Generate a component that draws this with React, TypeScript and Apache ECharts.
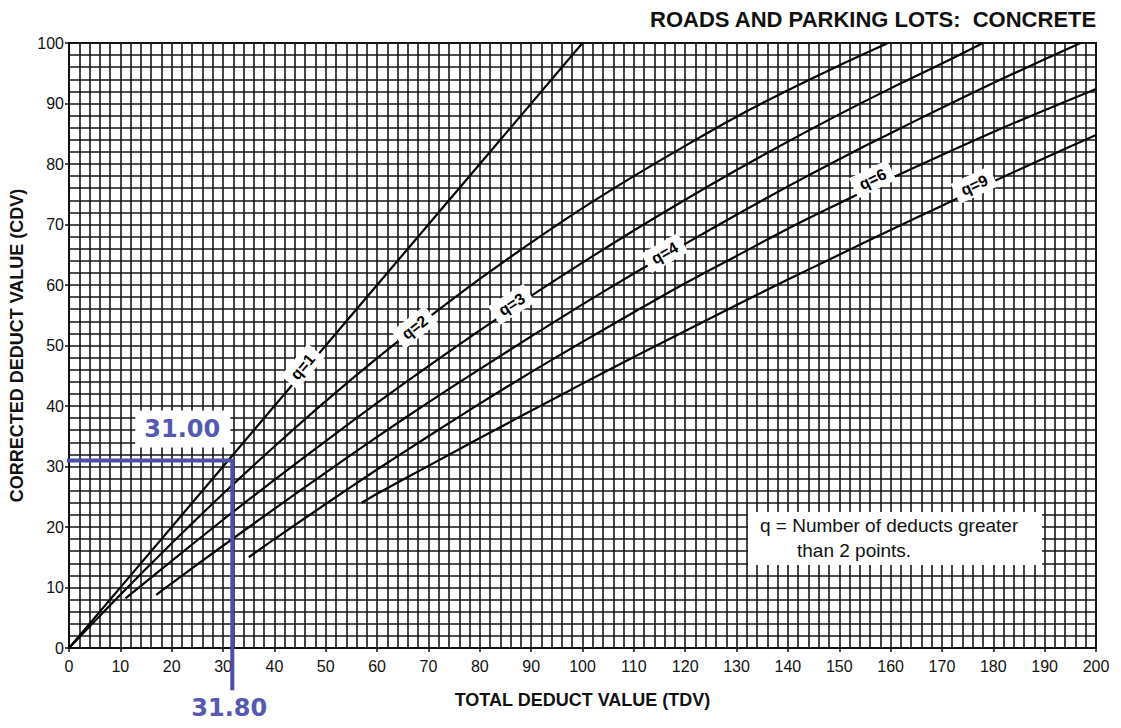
import React, { useEffect, useRef } from 'react';
import * as echarts from 'echarts';

const titleText = 'ROADS AND PARKING LOTS:  CONCRETE';
const xName = 'TOTAL DEDUCT VALUE (TDV)';
const yName = 'CORRECTED DEDUCT VALUE (CDV)';
const noteLines = ['q = Number of deducts greater', 'than 2 points.'];

// curves (TDV -> CDV)
const q1X = [0, 20, 40, 60, 80, 100];
const q1Y = [0, 20, 40, 60, 80, 100];
const q2X = [0, 10, 20, 30, 40, 50, 60, 70, 80, 90, 100, 110, 120, 130, 140, 150, 159.5];
const q2Y = [0, 8.8, 17.3, 25.5, 33.3, 40.8, 47.9, 54.6, 61, 67, 72.7, 78, 83, 87.8, 92.2, 96.3, 100];
const q3X = [11, 20, 30, 40, 50, 60, 70, 80, 90, 100, 110, 120, 130, 140, 150, 160, 170, 178];
const q3Y = [8.2, 14.4, 21.2, 27.8, 34.2, 40.5, 46.6, 52.5, 58.2, 63.7, 69, 74.1, 79, 83.7, 88.2, 92.5, 96.6, 100];
const q4X = [17, 20, 30, 40, 50, 60, 70, 80, 90, 100, 110, 120, 130, 140, 150, 160, 170, 180, 190, 197];
const q4Y = [8.8, 10.7, 16.9, 23.0, 29.0, 34.9, 40.6, 46.1, 51.5, 56.8, 61.9, 66.8, 71.6, 76.3, 80.8, 85.1, 89.3, 93.4, 97.3, 100];
const q6X = [35, 40, 50, 60, 70, 80, 90, 100, 110, 120, 130, 140, 150, 160, 170, 180, 190, 200];
const q6Y = [15, 18, 23.8, 29.5, 35, 40.4, 45.6, 50.6, 55.5, 60.3, 64.8, 69.3, 73.5, 77.6, 81.5, 85.3, 88.9, 92.4];
const q9X = [57, 60, 70, 80, 90, 100, 110, 120, 130, 140, 150, 160, 170, 180, 190, 200];
const q9Y = [24, 25.5, 30.1, 34.7, 39.2, 43.7, 48.1, 52.4, 56.7, 60.9, 65, 69.1, 73.1, 77.1, 81, 84.8];

const curveNames = ['q=1', 'q=2', 'q=3', 'q=4', 'q=6', 'q=9'];
const curveXs = [q1X, q2X, q3X, q4X, q6X, q9X];
const curveYs = [q1Y, q2Y, q3Y, q4Y, q6Y, q9Y];
const labelX = [45.5, 67.3, 86.2, 116, 156.5, 176.3];
const labelY = [46.5, 53, 56.8, 65.3, 77.5, 76.5];
const labelAngle = [50, 38, 33, 30, 26, 25];

// blue read-off annotation
const annotTDV = 31.8;
const annotCDV = 31.0;
const annotLineX = [-6.3, annotTDV, annotTDV];
const annotLineY = [annotCDV, annotCDV, -7];
const annotTexts = ['31.00', '31.80'];

const FONT = '"Liberation Sans", Arial, Helvetica, sans-serif';
const BLUE = '#4b4fa8';

const zip = (xs: number[], ys: number[]) => xs.map((x, i) => [x, ys[i]]);

export default function App() {
  const ref = useRef<HTMLDivElement>(null);
  useEffect(() => {
    if (!ref.current) return;
    const chart = echarts.init(ref.current, undefined, { renderer: 'svg' });
    const gridLine = { show: true, lineStyle: { color: '#161616', width: 1.6 } };
    const option: any = {
      animation: false,
      backgroundColor: '#ffffff',
      title: {
        text: titleText,
        right: 24,
        top: 8,
        padding: 0,
        textStyle: { fontFamily: FONT, fontSize: 22, fontWeight: 'bold', color: '#111' },
      },
      grid: {
        left: 69, right: 25, top: 43, bottom: 80,
        show: true, borderColor: '#111', borderWidth: 2, backgroundColor: 'transparent',
      },
      xAxis: {
        type: 'value', min: 0, max: 200, interval: 10,
        name: xName, nameLocation: 'middle', nameGap: 43,
        nameTextStyle: { fontFamily: FONT, fontSize: 18, fontWeight: 'bold', color: '#111' },
        axisLine: { show: true, lineStyle: { color: '#111', width: 2 } },
        axisTick: { show: true, length: 4, lineStyle: { color: '#111', width: 1.5 } },
        axisLabel: { margin: 10, fontSize: 16, color: '#111', fontFamily: FONT },
        splitLine: gridLine,
        minorTick: { show: false, splitNumber: 5 },
        minorSplitLine: gridLine,
      },
      yAxis: {
        type: 'value', min: 0, max: 100, interval: 10,
        name: yName, nameLocation: 'middle', nameGap: 42,
        nameTextStyle: { fontFamily: FONT, fontSize: 18, fontWeight: 'bold', color: '#111' },
        axisLine: { show: true, lineStyle: { color: '#111', width: 2 } },
        axisTick: { show: true, length: 4, lineStyle: { color: '#111', width: 1.5 } },
        axisLabel: { margin: 5, fontSize: 16, color: '#111', fontFamily: FONT },
        splitLine: gridLine,
        minorTick: { show: false, splitNumber: 5 },
        minorSplitLine: gridLine,
      },
      series: [
        ...curveNames.map((n, i) => ({
          type: 'line', name: n, data: zip(curveXs[i], curveYs[i]),
          smooth: 0.3, symbol: 'none', z: 3,
          lineStyle: { color: '#050505', width: 2.2 },
        })),
        {
          type: 'scatter', name: 'labels', symbolSize: 1, z: 5,
          itemStyle: { color: 'rgba(0,0,0,0)' },
          emphasis: { disabled: true },
          data: curveNames.map((n, i) => ({
            name: n, value: [labelX[i], labelY[i]], label: { rotate: labelAngle[i] },
          })),
          label: {
            show: true, position: 'inside', formatter: '{b}',
            backgroundColor: '#ffffff', padding: [3, 7], opacity: 1,
            fontSize: 16, fontWeight: 'bold', color: '#000', fontFamily: FONT,
            textBorderWidth: 0,
          },
        },
        {
          type: 'line', name: 'annot', data: zip(annotLineX, annotLineY), clip: false,
          symbol: 'none', z: 6, lineStyle: { color: BLUE, width: 4 },
        },
      ],
    };
    chart.setOption(option);
    const p = chart.convertToPixel({ gridIndex: 0 }, [annotTDV, annotCDV]) as number[];
    const b = chart.convertToPixel({ gridIndex: 0 }, [annotTDV, 0]) as number[];
    chart.setOption({
      graphic: [
        { type: 'rect', z: 20, shape: { x: p[0] - 97, y: p[1] - 50, width: 95, height: 37 }, style: { fill: '#ffffff' } },
        { type: 'text', z: 21, x: p[0] - 50, y: p[1] - 31, style: { text: annotTexts[0], fill: '#5559b2', font: 'bold 24px "DejaVu Sans", Verdana, sans-serif', align: 'center', verticalAlign: 'middle' } },
        { type: 'text', z: 21, x: b[0] - 3, y: b[1] + 60, style: { text: annotTexts[1], fill: '#5559b2', font: 'bold 24px "DejaVu Sans", Verdana, sans-serif', align: 'center', verticalAlign: 'middle' } },
        { type: 'rect', z: 20, shape: { x: 748, y: 512, width: 294, height: 53 }, style: { fill: '#ffffff' } },
        { type: 'text', z: 21, x: 760, y: 525, style: { text: noteLines[0], fill: '#111', font: '19px ' + FONT, align: 'left', verticalAlign: 'middle' } },
        { type: 'text', z: 21, x: 797, y: 550, style: { text: noteLines[1], fill: '#111', font: '19px ' + FONT, align: 'left', verticalAlign: 'middle' } },
      ],
    });
    return () => chart.dispose();
  }, []);
  return (
    <div
      ref={ref}
      style={{ position: 'fixed', left: 0, top: 0, width: 1121, height: 728, background: '#fff' }}
    />
  );
}
